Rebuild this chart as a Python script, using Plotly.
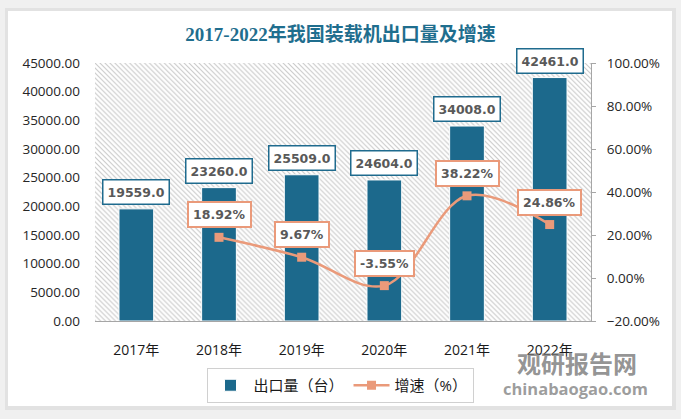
import plotly.graph_objects as go

# ---------------- data ----------------
years = ["2017年", "2018年", "2019年", "2020年", "2021年", "2022年"]
exports = [19559.0, 23260.0, 25509.0, 24604.0, 34008.0, 42461.0]
growth_years = ["2018年", "2019年", "2020年", "2021年", "2022年"]
growth = [18.92, 9.67, -3.55, 38.22, 24.86]

title_text = "2017-2022年我国装载机出口量及增速"
bar_name = "出口量（台）"
line_name = "增速（%）"

# ---------------- styling ----------------
W, H = 681, 419
ML, MR, MT, MB = 95, 90, 63, 98
PW, PH = W - ML - MR, H - MT - MB

BAR_COLOR = "#1C698C"
LINE_COLOR = "#EA9A7A"
LABEL_TXT = "#595959"
AXIS_GRAY = "#a6a6a6"
TICK_FONT = dict(family="Open Sans, Noto Sans CJK SC", size=13.5, color="#262626")


def px_x(px):
    return (px - ML) / PW


def px_y(py):
    return (H - MB - py) / PH


fig = go.Figure()

# hatched plot-area background (one bar covering all categories)
fig.add_trace(go.Bar(
    x=[years[0]], y=[45000], width=[len(years)], offset=[-0.5],
    marker=dict(color="white", line=dict(width=0),
                pattern=dict(shape="\\", fgcolor="#c8c8c8", bgcolor="white",
                             size=3.5, solidity=0.3, fillmode="replace")),
    hoverinfo="skip", showlegend=False, yaxis="y",
))

fig.add_trace(go.Bar(
    x=years, y=exports, name=bar_name, width=0.42,
    marker=dict(color=BAR_COLOR, line=dict(color="white", width=1)),
    yaxis="y",
))

fig.add_trace(go.Scatter(
    x=growth_years, y=growth, name=line_name, yaxis="y2",
    mode="lines+markers",
    line=dict(color=LINE_COLOR, width=2.5, shape="spline", smoothing=1.0),
    marker=dict(symbol="square", size=9, color=LINE_COLOR),
))

annotations = []
for yr, v in zip(years, exports):
    annotations.append(dict(
        x=yr, y=v, xref="x", yref="y", text=f"{v:.1f}", showarrow=False,
        yanchor="bottom", yshift=4,
        font=dict(family="DejaVu Sans", size=12.5, color=LABEL_TXT, weight="bold"),
        bgcolor="white", bordercolor="#1F6B8E", borderwidth=1.5, borderpad=4,
    ))
for yr, g in zip(growth_years, growth):
    annotations.append(dict(
        x=yr, y=g, xref="x", yref="y2", text=f"{g:.2f}%", showarrow=False,
        yanchor="bottom", yshift=9,
        font=dict(family="DejaVu Sans", size=12.5, color=LABEL_TXT, weight="bold"),
        bgcolor="white", bordercolor=LINE_COLOR, borderwidth=2, borderpad=4,
    ))

# watermark
annotations.append(dict(
    x=px_x(577), y=px_y(362), xref="paper", yref="paper", text="观研报告网",
    showarrow=False, xanchor="center", yanchor="middle",
    font=dict(family="Noto Sans CJK SC", size=24, color="rgba(120,120,120,0.8)", weight="bold"),
))
annotations.append(dict(
    x=px_x(575), y=px_y(388), xref="paper", yref="paper", text="chinabaogao.com",
    showarrow=False, xanchor="center", yanchor="middle",
    font=dict(family="Open Sans", size=16.5, color="rgba(140,140,140,0.85)", weight="bold"),
))

shapes = [
    # card shadow
    dict(type="rect", xref="paper", yref="paper", layer="below",
         x0=px_x(5), x1=px_x(676), y0=px_y(410), y1=px_y(8),
         fillcolor="#e2e2e2", line=dict(width=0)),
    # white card
    dict(type="rect", xref="paper", yref="paper", layer="below",
         x0=px_x(8), x1=px_x(672), y0=px_y(406), y1=px_y(11),
         fillcolor="white", line=dict(width=0)),
]

fig.update_layout(
    width=W, height=H,
    margin=dict(l=ML, r=MR, t=MT, b=MB, pad=0),
    paper_bgcolor="#f0f0f0",
    plot_bgcolor="rgba(0,0,0,0)",
    barmode="overlay",
    title=dict(text=title_text, x=0.5, xanchor="center", xref="container",
               y=1 - 34 / H, yanchor="middle", yref="container",
               font=dict(family="Liberation Serif, Noto Sans CJK SC", size=19,
                         color="#1F6E8E", weight="bold")),
    xaxis=dict(type="category", categoryorder="array", categoryarray=years,
               range=[-0.5, len(years) - 0.5], showgrid=False, zeroline=False,
               showline=True, linecolor=AXIS_GRAY, linewidth=1, ticks="",
               ticklabelstandoff=16,
               tickfont=dict(family="Open Sans, Noto Sans CJK SC", size=14, color="#1a1a1a")),
    yaxis=dict(range=[0, 45000], dtick=5000, tickformat=".2f", showgrid=False,
               zeroline=False, showline=False, ticks="", ticklabelstandoff=14,
               tickfont=TICK_FONT),
    yaxis2=dict(range=[-20, 100], dtick=20, tickformat=".2f", ticksuffix="%",
                overlaying="y", side="right", showgrid=False, zeroline=False,
                showline=True, linecolor=AXIS_GRAY, linewidth=1,
                ticks="outside", ticklen=4, tickcolor=AXIS_GRAY,
                ticklabelstandoff=8, tickfont=TICK_FONT),
    legend=dict(orientation="h", x=px_x(340), xanchor="center",
                y=px_y(368), yanchor="top",
                bordercolor="#d0d0d0", borderwidth=1, bgcolor="white",
                font=dict(family="Open Sans, Noto Sans CJK SC", size=15, color="#1a1a1a"),
                itemwidth=36, traceorder="normal"),
    annotations=annotations,
    shapes=shapes,
    showlegend=True,
)

fig.write_html("out.html", config={"displayModeBar": False},
               post_script="document.body.style.margin='0';document.body.style.overflow='hidden';")
